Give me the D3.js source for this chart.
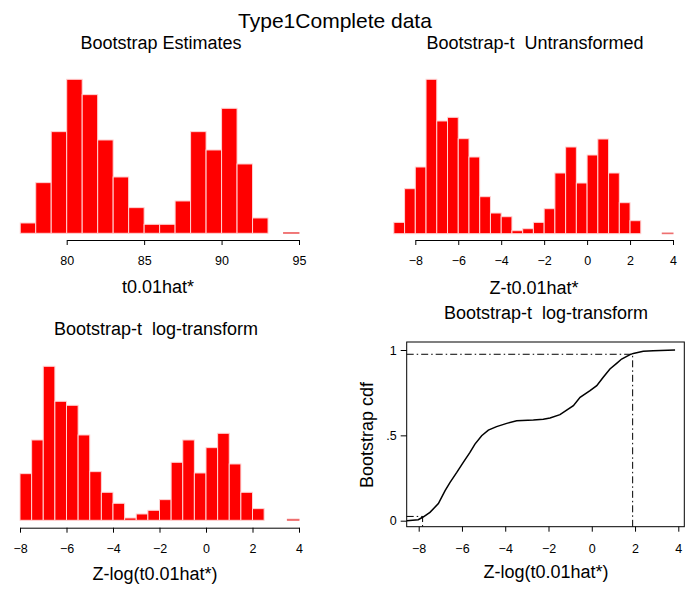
<!DOCTYPE html>
<html>
<head>
<meta charset="utf-8">
<script src="https://cdn.jsdelivr.net/npm/d3@7"></script>
<style>
  body { margin: 0; background: #fff; }
  svg { display: block; font-family: "Liberation Sans", Arial, sans-serif; }
  .tick text { font-size: 12.5px; fill: #000; }
  .tick line, .domain { stroke: #000; }
</style>
</head>
<body>
<svg id="chart" width="686" height="592"></svg>
<script>
// histogram bins (lower edges) and bar heights
const estBins = [77, 78, 79, 80, 81, 82, 83, 84, 85, 86, 87, 88, 89, 90, 91, 92, 93, 94];
const estHeights = [31, 152, 305, 462, 416, 280, 169, 77, 27, 27, 97, 305, 250, 375, 208, 46, 0, 2];

const ztBins = [-9, -8.5, -8, -7.5, -7, -6.5, -6, -5.5, -5, -4.5, -4, -3.5, -3,
  -2.5, -2, -1.5, -1, -0.5, 0, 0.5, 1, 1.5, 2, 2.5, 3, 3.5];
const ztHeights = [34, 135, 200, 463, 338, 349, 285, 230, 111, 62, 51, 9, 15,
  34, 75, 182, 260, 152, 236, 284, 182, 93, 39, 0, 0, 2];

const zlogBins = [-8, -7.5, -7, -6.5, -6, -5.5, -5, -4.5, -4, -3.5, -3, -2.5,
  -2, -1.5, -1, -0.5, 0, 0.5, 1, 1.5, 2, 2.5, 3, 3.5];
const zlogHeights = [140, 241, 462, 357, 345, 256, 146, 84, 51, 7, 19, 30,
  62, 174, 241, 142, 218, 261, 169, 84, 35, 0, 0, 3];

// bootstrap cdf of Z-log(t0.01hat*)
const cdfX = [-8.55, -8.02, -7.78, -7.48, -7.09, -6.78, -6.55, -6.24, -5.94, -5.63,
  -5.40, -5.09, -4.78, -4.40, -3.93, -3.47, -2.70, -2.24, -1.93, -1.47, -1.16,
  -0.85, -0.54, -0.08, 0.23, 0.53, 0.84, 1.15, 1.38, 1.77, 1.92, 2.38, 2.84, 3.85];
const cdfY = [0, 0.006, 0.023, 0.049, 0.10, 0.176, 0.225, 0.283, 0.342, 0.40,
  0.449, 0.498, 0.531, 0.551, 0.570, 0.586, 0.590, 0.594, 0.602, 0.621, 0.648,
  0.674, 0.723, 0.762, 0.791, 0.840, 0.889, 0.922, 0.947, 0.973, 0.98, 0.992, 0.996, 1.0];
const lowerQ = { p: 0.025, z: -7.82 };
const upperQ = { p: 0.975, z: 1.89 };

const zTicks = [-8, -6, -4, -2, 0, 2, 4];
const estTicks = [80, 85, 90, 95];
const cdfTicks = [0, 0.5, 1];

const svg = d3.select("#chart");

function barStroke(h) {
  if (h === 0) return "#e4e4e4";
  if (h < 5) return "#ee7070";
  return "#ffd4d4";
}

function drawHist(bins, heights, binWidth, opt) {
  const x = d3.scaleLinear().domain(opt.xDomain).range(opt.xRange);
  const y = d3.scaleLinear().domain([0, d3.max(heights)]).range([opt.base, opt.top]);
  const g = svg.append("g");

  g.selectAll(".bar")
    .data(bins)
    .enter()
    .append("rect")
    .attr("class", "bar")
    .attr("x", (d) => x(d))
    .attr("width", (d) => x(d + binWidth) - x(d))
    .attr("y", (d, i) => y(heights[i]))
    .attr("height", (d, i) => opt.base - y(heights[i]))
    .attr("fill", (d, i) => (heights[i] > 0 ? "#ff0000" : "none"))
    .attr("stroke", (d, i) => barStroke(heights[i]))
    .attr("stroke-width", 1);

  g.append("g")
    .attr("transform", "translate(0," + opt.axisY + ")")
    .call(d3.axisBottom(x).tickValues(opt.ticks).tickSize(5).tickSizeOuter(0)
      .tickPadding(11).tickFormat(d3.format("d")));
}

drawHist(estBins, estHeights, 1, {
  xDomain: [80, 95], xRange: [66.7, 299], base: 233.3, top: 79.3, axisY: 240, ticks: estTicks
});
drawHist(ztBins, ztHeights, 0.5, {
  xDomain: [-8, 4], xRange: [415.3, 673], base: 233.7, top: 79.3, axisY: 240, ticks: zTicks
});
drawHist(zlogBins, zlogHeights, 0.5, {
  xDomain: [-8, 4], xRange: [20, 299], base: 520.3, top: 366.3, axisY: 527.7, ticks: zTicks
});

// CDF PANEL ----------------------------------------------
const cx = d3.scaleLinear().domain([-8, 4]).range([418.7, 678.3]);
const cy = d3.scaleLinear().domain([0, 1]).range([520.7, 350]);
const box = { x0: 406.7, x1: 684.3, y0: 342, y1: 526.7 };

svg.append("rect")
  .attr("x", box.x0).attr("y", box.y0)
  .attr("width", box.x1 - box.x0).attr("height", box.y1 - box.y0)
  .attr("fill", "none").attr("stroke", "#000").attr("stroke-width", 1);

svg.append("g")
  .attr("transform", "translate(0," + box.y1 + ")")
  .call(d3.axisBottom(cx).tickValues(zTicks).tickSize(5).tickPadding(12)
    .tickFormat(d3.format("d")))
  .call((g) => g.select(".domain").remove());

svg.append("g")
  .attr("transform", "translate(" + box.x0 + ",0)")
  .call(d3.axisLeft(cy).tickValues(cdfTicks).tickSize(6).tickPadding(4)
    .tickFormat((d) => (d === 0.5 ? ".5" : d3.format("d")(d))))
  .call((g) => g.select(".domain").remove());

const dashDot = "7,3,1.5,3";
[lowerQ, upperQ].forEach((q) => {
  svg.append("path")
    .attr("d", "M" + box.x0 + "," + cy(q.p) + "H" + cx(q.z) + "V" + box.y1)
    .attr("fill", "none").attr("stroke", "#000").attr("stroke-width", 1)
    .attr("stroke-dasharray", dashDot);
});

const line = d3.line().x((d, i) => cx(cdfX[i])).y((d, i) => cy(cdfY[i]));
svg.append("path")
  .datum(cdfX)
  .attr("d", line)
  .attr("fill", "none").attr("stroke", "#000").attr("stroke-width", 1.5);

// TEXT ----------------------------------------------------
const labels = [
  { t: "Type1Complete data", x: 335, y: 28, s: 21 },
  { t: "Bootstrap Estimates", x: 161, y: 49, s: 18 },
  { t: "Bootstrap-t  Untransformed", x: 535, y: 49, s: 18 },
  { t: "t0.01hat*", x: 158, y: 293, s: 18 },
  { t: "Z-t0.01hat*", x: 534, y: 294, s: 18 },
  { t: "Bootstrap-t  log-transform", x: 156, y: 335, s: 18 },
  { t: "Bootstrap-t  log-transform", x: 546, y: 319, s: 18 },
  { t: "Z-log(t0.01hat*)", x: 155, y: 580, s: 18 },
  { t: "Z-log(t0.01hat*)", x: 546, y: 578, s: 18 },
];
svg.selectAll(".lbl")
  .data(labels)
  .enter()
  .append("text")
  .attr("class", "lbl")
  .attr("x", (d) => d.x)
  .attr("y", (d) => d.y)
  .attr("text-anchor", "middle")
  .style("white-space", "pre")
  .style("font-size", (d) => d.s + "px")
  .text((d) => d.t);

svg.append("text")
  .attr("transform", "translate(373,435) rotate(-90)")
  .attr("text-anchor", "middle")
  .style("font-size", "18px")
  .text("Bootstrap cdf");
</script>
</body>
</html>
